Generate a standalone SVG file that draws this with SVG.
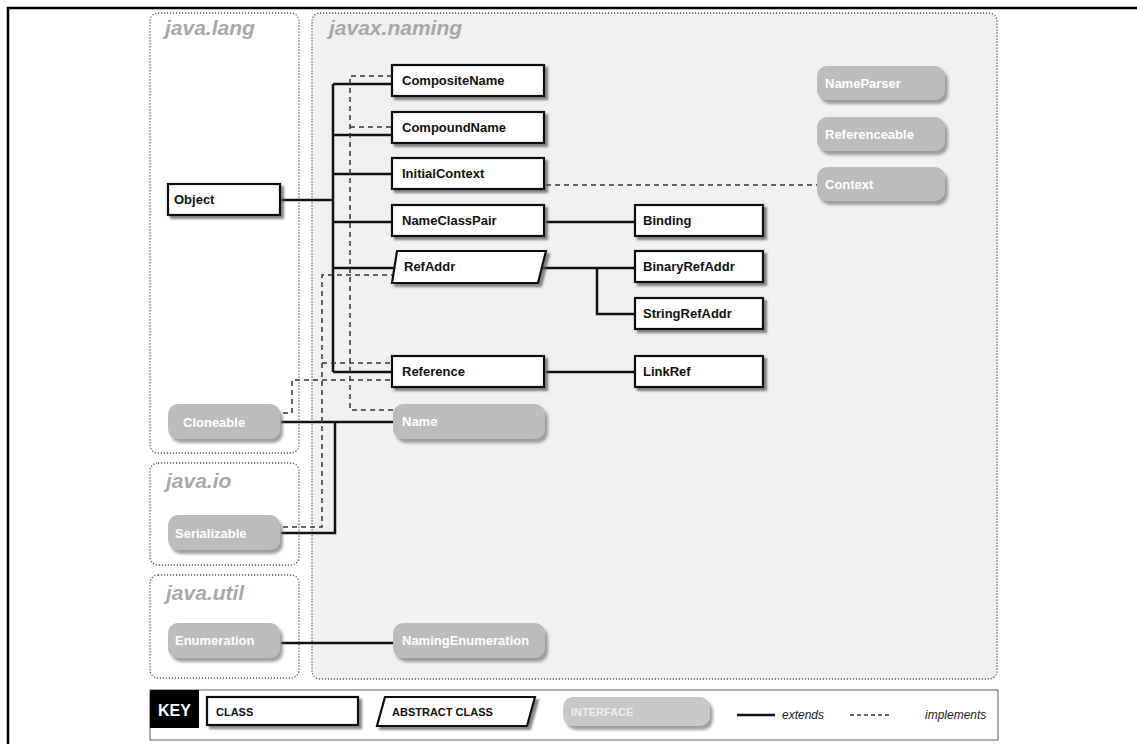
<svg xmlns="http://www.w3.org/2000/svg" width="1137" height="744" viewBox="0 0 1137 744">
<defs>
<filter id="sh" x="-10%" y="-20%" width="130%" height="160%"><feDropShadow dx="3" dy="3" stdDeviation="1.3" flood-color="#555" flood-opacity="0.7"/></filter>
<filter id="shi" x="-10%" y="-20%" width="130%" height="160%"><feDropShadow dx="3" dy="4" stdDeviation="1.8" flood-color="#777" flood-opacity="0.7"/></filter>
</defs>
<style>
text{font-family:"Liberation Sans",Arial,sans-serif;}
.frame{fill:none;stroke:#000;stroke-width:2.5;}
.pkg{fill:#fff;stroke:#555;stroke-width:1.3;stroke-dasharray:1.2 1.8;}
.pkgn{fill:#f0f0f0;stroke:#555;stroke-width:1.3;stroke-dasharray:1.2 1.8;}
.pkgt{font-size:21px;font-weight:bold;font-style:italic;fill:#a8a8a8;}
.cls{fill:#fff;stroke:#111;stroke-width:2.2;filter:url(#sh);}
.clst{font-size:13px;font-weight:bold;fill:#111;}
.itf{fill:#bcbcbc;stroke:none;filter:url(#shi);}
.itft{font-size:13px;font-weight:bold;fill:#fff;}
.ext{fill:none;stroke:#111;stroke-width:2.5;}
.imp{fill:none;stroke:#333;stroke-width:1.5;stroke-dasharray:5 4;}
.keyt{font-size:11px;font-weight:bold;fill:#111;}
.legt{font-size:12px;font-style:italic;fill:#222;}
</style>
<path class="frame" d="M8,744 V8 H1137"/>
<g id="pkg-java-lang"><rect class="pkg" x="150" y="13" width="149" height="440" rx="8"/><text class="pkgt" x="165" y="35">java.lang</text></g>
<g id="pkg-java-io"><rect class="pkg" x="150" y="463" width="149" height="102" rx="8"/><text class="pkgt" x="166" y="488">java.io</text></g>
<g id="pkg-java-util"><rect class="pkg" x="150" y="575" width="149" height="103" rx="8"/><text class="pkgt" x="166" y="600">java.util</text></g>
<g id="pkg-javax-naming"><rect class="pkgn" x="312" y="13" width="685" height="666" rx="8"/><text class="pkgt" x="329" y="35">javax.naming</text></g>
<g id="connectors">
<path class="ext" d="M281,200 H333 M333,84 V372 M333,84 H392 M333,135 H392 M333,174 H392 M333,222 H392 M333,268 H395 M333,372 H392"/>
<path class="ext" d="M546,222 H635 M538,268 H635 M597,268 V314 H635 M546,372 H635"/>
<path class="ext" d="M281,422 H393 M335,422 V533 H281 M281,643 H393"/>
<path class="imp" d="M393,410 H350 V76 H392 M350,127 H392"/>
<path class="imp" d="M283,527 H322 V275 H394 M322,363 H392"/>
<path class="imp" d="M283,413 H292 V380 H392"/>
<path class="imp" d="M546,185 H817"/>
</g>
<g id="node-object"><rect class="cls" x="168" y="184" width="112" height="31"/><text class="clst" x="174" y="204">Object</text></g>
<g id="node-compositename"><rect class="cls" x="392" y="65" width="152" height="31"/><text class="clst" x="402" y="85">CompositeName</text></g>
<g id="node-compoundname"><rect class="cls" x="392" y="112" width="152" height="31"/><text class="clst" x="402" y="132">CompoundName</text></g>
<g id="node-initialcontext"><rect class="cls" x="392" y="158" width="152" height="31"/><text class="clst" x="402" y="178">InitialContext</text></g>
<g id="node-nameclasspair"><rect class="cls" x="392" y="205" width="152" height="31"/><text class="clst" x="402" y="225">NameClassPair</text></g>
<g id="node-refaddr"><polygon class="cls" points="397,251 546,251 538,283 392,283"/><text class="clst" x="404" y="271">RefAddr</text></g>
<g id="node-reference"><rect class="cls" x="392" y="356" width="152" height="31"/><text class="clst" x="402" y="376">Reference</text></g>
<g id="node-binding"><rect class="cls" x="635" y="205" width="128" height="31"/><text class="clst" x="643" y="225">Binding</text></g>
<g id="node-binaryrefaddr"><rect class="cls" x="635" y="251" width="128" height="31"/><text class="clst" x="643" y="271">BinaryRefAddr</text></g>
<g id="node-stringrefaddr"><rect class="cls" x="635" y="298" width="128" height="31"/><text class="clst" x="643" y="318">StringRefAddr</text></g>
<g id="node-linkref"><rect class="cls" x="635" y="356" width="128" height="31"/><text class="clst" x="643" y="376">LinkRef</text></g>
<g id="node-cloneable"><rect class="itf" x="168" y="404" width="112" height="35" rx="10"/><text class="itft" x="183" y="427">Cloneable</text></g>
<g id="node-name"><rect class="itf" x="393" y="404" width="152" height="35" rx="10"/><text class="itft" x="402" y="426">Name</text></g>
<g id="node-serializable"><rect class="itf" x="168" y="515" width="112" height="35" rx="10"/><text class="itft" x="175" y="538">Serializable</text></g>
<g id="node-enumeration"><rect class="itf" x="168" y="623" width="112" height="35" rx="10"/><text class="itft" x="175" y="645">Enumeration</text></g>
<g id="node-namingenumeration"><rect class="itf" x="393" y="623" width="152" height="35" rx="10"/><text class="itft" x="402" y="645">NamingEnumeration</text></g>
<g id="node-nameparser"><rect class="itf" x="817" y="66" width="128" height="34" rx="10"/><text class="itft" x="825" y="88">NameParser</text></g>
<g id="node-referenceable"><rect class="itf" x="817" y="117" width="128" height="34" rx="10"/><text class="itft" x="825" y="139">Referenceable</text></g>
<g id="node-context"><rect class="itf" x="817" y="167" width="128" height="34" rx="10"/><text class="itft" x="825" y="189">Context</text></g>
<g id="key">
<rect x="150" y="690" width="848" height="50" fill="#fff" stroke="#777" stroke-width="1.2"/>
<rect x="150" y="690" width="49" height="38" fill="#000"/>
<text x="158" y="716" font-size="16" font-weight="bold" fill="#fff">KEY</text>
<rect class="cls" x="207" y="697" width="151" height="28"/>
<text class="keyt" x="216" y="716">CLASS</text>
<polygon class="cls" points="385,697 535,697 527,726 377,726"/>
<text class="keyt" x="392" y="716">ABSTRACT CLASS</text>
<rect class="itf" x="563" y="697" width="147" height="29" rx="10" style="fill:#c8c8c8"/>
<text class="keyt" x="571" y="716" style="fill:#eee">INTERFACE</text>
<path class="ext" d="M737,715 H775"/>
<text class="legt" x="782" y="719">extends</text>
<path class="imp" d="M850,715 H892" style="stroke-dasharray:4 3"/>
<text class="legt" x="925" y="719">implements</text>
</g>
</svg>
